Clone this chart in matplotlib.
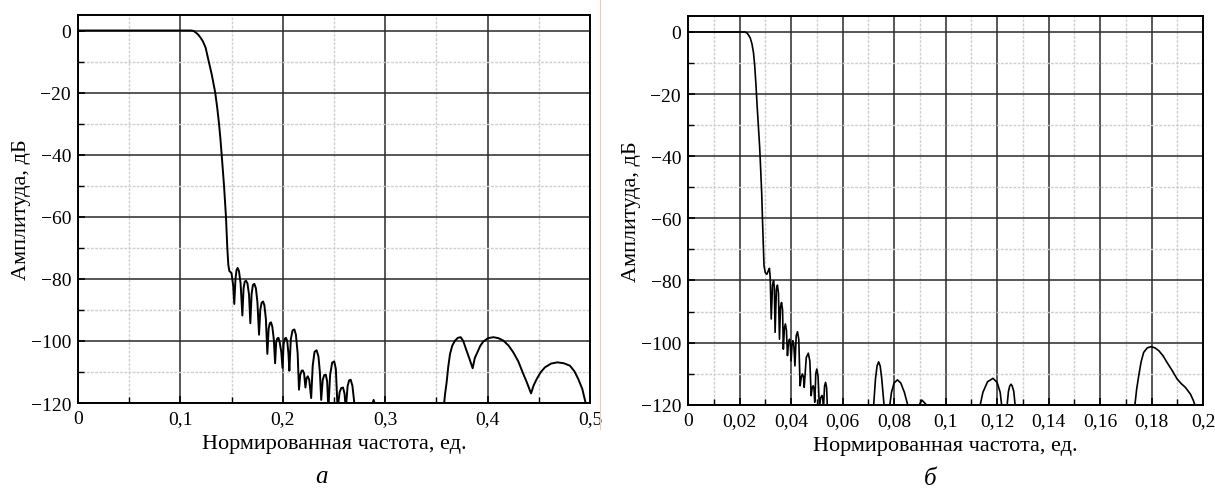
import matplotlib
matplotlib.use("Agg")
import matplotlib.pyplot as plt
from matplotlib.ticker import MultipleLocator, FuncFormatter
from matplotlib.lines import Line2D

plt.rcParams['font.family'] = ['Liberation Serif', 'DejaVu Serif']

# ---- Panel a data (normalized frequency, dB) ----
a_main_x = [0.0, 0.05, 0.1, 0.1104, 0.1125, 0.114, 0.117, 0.1195, 0.122, 0.1247, 0.127,
            0.1305, 0.134, 0.136, 0.1377, 0.1391, 0.1403, 0.1426, 0.1445, 0.1458, 0.1468,
            0.1478, 0.1495, 0.150]
a_main_y = [0.0, 0.0, 0.0, 0.0, -0.1, -0.4, -1.2, -2.2, -3.5, -5.6, -9.0,
            -14.0, -20.0, -25.0, -30.0, -35.0, -40.0, -50.0, -60.0, -70.0, -75.5,
            -77.5, -78.0, -78.4]
a_lobe_x = [0.1515, 0.1526, 0.1538, 0.1548, 0.1559, 0.1572, 0.1588, 0.1605, 0.1617, 0.1628,
            0.1641, 0.1655, 0.1670, 0.1683, 0.1695, 0.1708, 0.1722, 0.1737, 0.1752, 0.1768,
            0.1780, 0.1793, 0.1807, 0.1820, 0.1835, 0.1849, 0.1862, 0.1873, 0.1885, 0.1898,
            0.1912, 0.1925, 0.1935, 0.1946, 0.1958, 0.1970, 0.1985, 0.1997, 0.2008, 0.2019,
            0.2031, 0.2043, 0.2055, 0.2064, 0.2078, 0.2095, 0.2113, 0.2128, 0.2145, 0.2158,
            0.2170, 0.2184, 0.2195, 0.2208, 0.2221, 0.2232, 0.2244, 0.2258, 0.2277, 0.2292,
            0.2310, 0.2330, 0.2348, 0.2362, 0.2375, 0.2390, 0.2405, 0.2420, 0.2433, 0.2445,
            0.2462, 0.2482, 0.2502, 0.2518, 0.2535, 0.2555, 0.2570, 0.2588, 0.2603, 0.2615,
            0.2633, 0.2648, 0.2663, 0.2680, 0.2705]
a_lobe_y = [-82.0, -88.1, -80.0, -77.2, -76.5, -77.5, -81.5, -91.8, -83.0, -80.9,
            -80.6, -81.5, -85.0, -94.3, -85.0, -82.0, -81.6, -83.0, -87.5, -98.0,
            -90.0, -87.7, -87.3, -88.5, -93.0, -104.2, -96.0, -94.3, -94.0, -95.5,
            -99.5, -107.2, -100.5, -99.2, -99.0, -100.5, -103.5, -108.7, -101.0, -99.3,
            -99.0, -100.0, -104.0, -109.6, -99.5, -96.6, -96.3, -98.0, -104.0, -115.7,
            -111.0, -109.6, -109.5, -110.5, -115.0, -112.0, -111.4, -112.5, -118.4, -108.0,
            -103.5, -103.0, -105.0, -110.0, -119.0, -112.5, -111.0, -110.9, -113.0, -122.0,
            -111.0, -107.0, -106.6, -109.0, -122.0, -116.5, -115.2, -115.0, -117.0, -122.0,
            -114.5, -112.7, -112.5, -114.5, -122.0]
a_blip_x = [0.2870, 0.2887, 0.2905]
a_blip_y = [-121.0, -119.0, -121.0]
a_high_x = [0.3574, 0.3585, 0.3600, 0.3615, 0.3633, 0.3655, 0.3682, 0.3710, 0.3737, 0.3762,
            0.3789, 0.3820, 0.3854, 0.3875, 0.3900, 0.3928, 0.3958, 0.4005, 0.4056, 0.4105,
            0.4154, 0.4205, 0.4251, 0.4300, 0.4342, 0.4385, 0.4424, 0.4450, 0.4479, 0.4518,
            0.4560, 0.4620, 0.4681, 0.4745, 0.4805, 0.4848, 0.4886, 0.4925, 0.4961]
a_high_y = [-120.5, -117.0, -113.3, -108.5, -104.2, -101.5, -99.9, -99.0, -98.8, -100.0,
            -102.6, -105.5, -108.8, -105.5, -103.7, -101.6, -100.2, -99.1, -98.8, -99.1,
            -99.9, -101.5, -103.7, -106.6, -110.1, -113.5, -116.9, -114.3, -112.3, -110.1,
            -108.5, -107.3, -106.9, -107.2, -108.0, -109.8, -112.3, -115.5, -120.5]

# ---- Panel b data ----
b_main_x = [0.0, 0.01, 0.02, 0.0221, 0.0230, 0.0241, 0.0248, 0.0254, 0.0259, 0.0264,
            0.0268, 0.0273, 0.0278, 0.0282, 0.0286, 0.0289, 0.0292, 0.0295, 0.0300, 0.0306]
b_main_y = [0.0, 0.0, 0.0, 0.0, -0.4, -1.8, -3.8, -6.6, -11.0, -17.4,
            -23.5, -30.2, -37.0, -44.2, -52.0, -60.3, -68.0, -75.3, -77.5, -78.0]
b_lobe_x = [0.0311, 0.0316, 0.0319, 0.0323, 0.0328, 0.0332, 0.0335, 0.0338, 0.0343, 0.0347,
            0.0351, 0.0355, 0.0359, 0.0363, 0.0367, 0.0370, 0.0374, 0.0378, 0.0382, 0.0386,
            0.0390, 0.0394, 0.0397, 0.0400, 0.0404, 0.0407, 0.0411, 0.0415, 0.0420, 0.0425,
            0.0430, 0.0435, 0.0440, 0.0444, 0.0448, 0.0451, 0.0459, 0.0467, 0.0473, 0.0478,
            0.0482, 0.0486, 0.0489, 0.0492, 0.0496, 0.0500, 0.0505, 0.0510, 0.0515, 0.0520,
            0.0523, 0.0526, 0.0530, 0.0534, 0.0538, 0.0541]
b_lobe_y = [-77.0, -76.1, -79.0, -92.4, -81.5, -80.1, -82.0, -96.7, -83.0, -81.5,
            -84.0, -98.9, -88.5, -87.1, -89.5, -102.1, -95.5, -94.0, -96.0, -104.2,
            -100.0, -98.9, -100.5, -105.9, -100.5, -99.4, -101.0, -107.5, -97.8, -96.5,
            -99.0, -113.9, -111.0, -110.1, -111.0, -114.4, -104.8, -103.4, -106.0, -117.1,
            -114.5, -113.9, -114.8, -119.2, -110.0, -108.5, -111.0, -121.0, -117.8, -117.0,
            -118.0, -121.0, -114.0, -112.8, -114.5, -121.0]
b_l1_x = [0.0720, 0.0728, 0.0734, 0.0740, 0.0746, 0.0752, 0.0762]
b_l1_y = [-121.0, -111.5, -107.5, -106.2, -107.5, -111.5, -121.0]
b_l2_x = [0.0782, 0.0790, 0.0800, 0.0813, 0.0826, 0.0840, 0.0856]
b_l2_y = [-121.0, -116.0, -113.0, -112.0, -113.0, -116.0, -121.0]
b_l3_x = [0.0895, 0.0908, 0.0931]
b_l3_y = [-120.5, -118.5, -120.5]
b_l4_x = [0.1132, 0.1145, 0.1163, 0.1184, 0.1200, 0.1212, 0.1219]
b_l4_y = [-121.0, -116.0, -112.6, -111.5, -112.8, -116.0, -121.0]
b_l5_x = [0.1238, 0.1244, 0.1249, 0.1254, 0.1259, 0.1265, 0.1271]
b_l5_y = [-121.0, -115.8, -114.0, -113.4, -114.0, -115.8, -121.0]
b_l6_x = [0.1734, 0.1742, 0.1750, 0.1759, 0.1769, 0.1783, 0.1798, 0.1813, 0.1828, 0.1845,
          0.1860, 0.1880, 0.1899, 0.1915, 0.1931, 0.1951, 0.1962, 0.1972]
b_l6_y = [-121.0, -115.0, -110.7, -106.3, -103.2, -101.7, -101.3, -101.7, -102.6, -104.3,
          -106.4, -109.0, -111.7, -113.2, -114.4, -116.6, -118.6, -121.0]

y_ticks = [0, -20, -40, -60, -80, -100, -120]

fig = plt.figure(figsize=(12.15, 4.89), dpi=100)
axa = fig.add_axes([0.0642, 0.1738, 0.4214, 0.7935])
axb = fig.add_axes([0.5663, 0.1703, 0.4239, 0.7940])


def fmt_comma(v, pos):
    if abs(v) < 1e-12:
        return "0"
    s = ("%.2f" % v).rstrip("0").rstrip(".")
    return s.replace(".", ",")


def fmt_y(v, pos):
    iv = int(round(v))
    return ("\u2212%d" % -iv) if iv < 0 else "%d" % iv


def style(ax, xmax, xmaj, xmin):
    ax.set_xlim(0, xmax)
    ax.set_ylim(-120, 5)
    ax.xaxis.set_major_locator(MultipleLocator(xmaj))
    ax.xaxis.set_minor_locator(MultipleLocator(xmin))
    ax.set_yticks(y_ticks)
    ax.yaxis.set_minor_locator(MultipleLocator(10))
    ax.xaxis.set_major_formatter(FuncFormatter(fmt_comma))
    ax.yaxis.set_major_formatter(FuncFormatter(fmt_y))
    ax.grid(which='major', color='#2a2a2a', lw=1.1)
    ax.grid(which='minor', color='#cfcfcf', lw=1.0, ls=(0, (2, 1)))
    ax.set_axisbelow(True)
    ax.tick_params(which='both', direction='in', top=False, right=False,
                   labelsize=14, pad=5)
    ax.tick_params(which='major', length=5, width=1.2)
    ax.tick_params(which='minor', length=4, width=1.0)
    for sp in ax.spines.values():
        sp.set_linewidth(1.4)
        sp.set_color('black')
    ax.set_xlabel("Нормированная частота, ед.", fontsize=16, labelpad=5)
    ax.set_ylabel("Амплитуда, дБ", fontsize=16, labelpad=0)


style(axa, 0.5, 0.1, 0.05)
style(axb, 0.2, 0.02, 0.01)

lw = 1.4
axa.plot(a_main_x + a_lobe_x, a_main_y + a_lobe_y, color='black', lw=lw)
axa.plot(a_blip_x, a_blip_y, color='black', lw=lw)
axa.plot(a_high_x, a_high_y, color='black', lw=lw)

axb.plot(b_main_x + b_lobe_x, b_main_y + b_lobe_y, color='black', lw=1.2)
for xs, ys in [(b_l1_x, b_l1_y), (b_l2_x, b_l2_y), (b_l3_x, b_l3_y),
               (b_l4_x, b_l4_y), (b_l5_x, b_l5_y), (b_l6_x, b_l6_y)]:
    axb.plot(xs, ys, color='black', lw=1.2)

fig.text(0.265, 0.012, "а", fontsize=18, style='italic', ha='center')
fig.text(0.766, 0.008, "б", fontsize=18, style='italic', ha='center')

fig.add_artist(Line2D([600 / 1215, 600 / 1215], [0.12, 1.0], transform=fig.transFigure,
                      color='#f3c4c4', lw=0.8))

fig.savefig("out.png", dpi=100)
